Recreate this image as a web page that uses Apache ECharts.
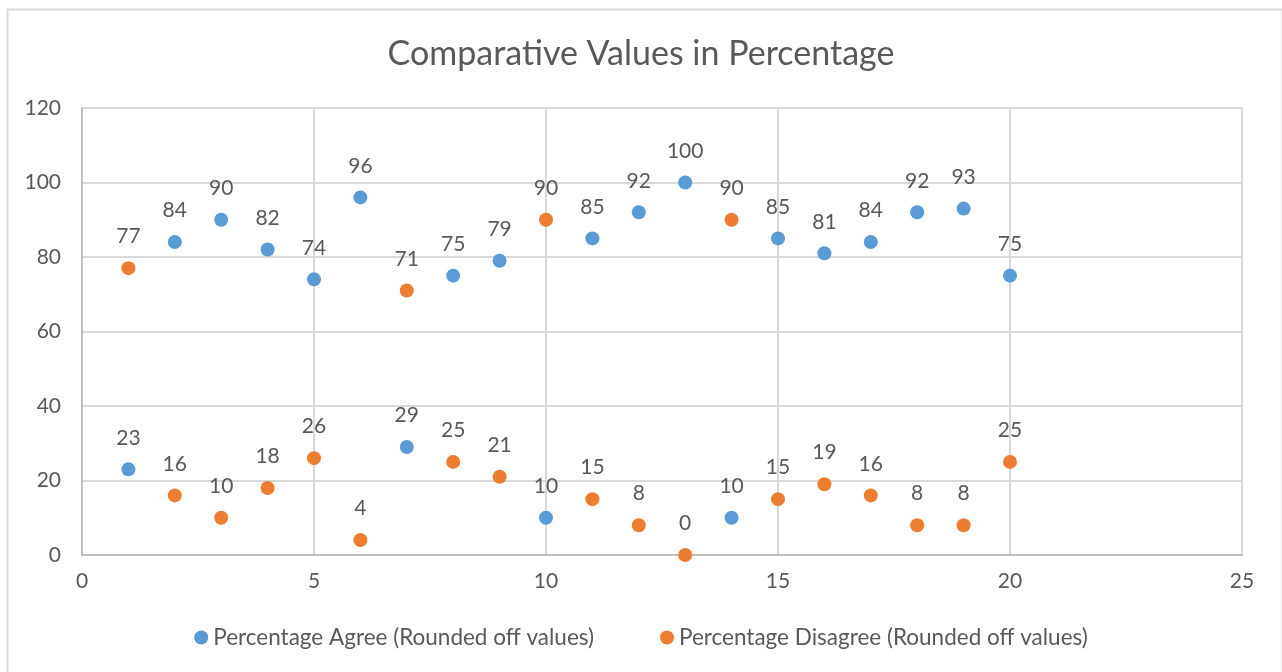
<!DOCTYPE html>
<html>
<head>
<meta charset="utf-8">
<title>Comparative Values in Percentage</title>
<script src="https://cdn.jsdelivr.net/npm/echarts@6/dist/echarts.min.js"></script>
<style>
    html, body { margin: 0; padding: 0; background: #fff; }
    #chart { width: 1282px; height: 672px; }
</style>
</head>
<body>
<div id="chart"></div>
<script>
// Data
var positions = [1, 2, 3, 4, 5, 6, 7, 8, 9, 10, 11, 12, 13, 14, 15, 16, 17, 18, 19, 20];
var agreeValues = [23, 84, 90, 82, 74, 96, 29, 75, 79, 10, 85, 92, 100, 10, 85, 81, 84, 92, 93, 75];
var disagreeValues = [77, 16, 10, 18, 26, 4, 71, 25, 21, 90, 15, 8, 0, 90, 15, 19, 16, 8, 8, 25];
var seriesNames = ['Percentage Agree (Rounded off values)', 'Percentage Disagree (Rounded off values)'];

function toPoints(values) {
    return positions.map(function (x, i) { return [x, values[i]]; });
}

var chart = echarts.init(document.getElementById('chart'));

var labelStyle = {
    show: true,
    position: 'top',
    distance: 14,
    color: '#595959',
    fontSize: 21,
    fontFamily: 'Lato, sans-serif',
    formatter: function (p) { return p.value[1]; }
};

chart.setOption({

    // Global text styles
    textStyle: {
        fontFamily: 'Lato, sans-serif',
        color: '#595959'
    },

    animation: false,

    // Chart outer border
    graphic: [{
        type: 'rect',
        left: 5,
        top: 7,
        shape: { width: 1275, height: 675 },
        style: { fill: 'none', stroke: '#d9d9d9', lineWidth: 2 },
        silent: true
    }],

    // Title
    title: {
        text: 'Comparative Values in Percentage',
        left: 'center',
        top: 32,
        textStyle: {
            fontSize: 34,
            fontWeight: 'normal',
            color: '#595959',
            fontFamily: 'Lato, sans-serif'
        }
    },

    // Setup grid
    grid: {
        left: 82,
        right: 40,
        top: 108,
        bottom: 117
    },

    // Legend
    legend: {
        data: seriesNames,
        bottom: 18,
        left: 'center',
        icon: 'circle',
        itemWidth: 14,
        itemHeight: 14,
        itemGap: 66,
        textStyle: {
            fontSize: 22.5,
            color: '#595959',
            fontFamily: 'Lato, sans-serif'
        }
    },

    // Horizontal axis
    xAxis: {
        type: 'value',
        min: 0,
        max: 25,
        interval: 5,
        axisLine: { show: true, lineStyle: { color: '#bfbfbf', width: 2 } },
        axisTick: { show: false },
        axisLabel: { color: '#595959', fontSize: 21, margin: 16 },
        splitLine: { show: true, lineStyle: { color: '#d9d9d9', width: 2 } }
    },

    // Vertical axis
    yAxis: {
        type: 'value',
        min: 0,
        max: 120,
        interval: 20,
        axisLine: { show: true, lineStyle: { color: '#bfbfbf', width: 2 } },
        axisTick: { show: false },
        axisLabel: { color: '#595959', fontSize: 21, margin: 21 },
        splitLine: { show: true, lineStyle: { color: '#d9d9d9', width: 2 } }
    },

    // Series
    series: [
        {
            name: seriesNames[0],
            type: 'scatter',
            symbolSize: 14,
            itemStyle: { color: '#5B9BD5', opacity: 1 },
            label: labelStyle,
            data: toPoints(agreeValues)
        },
        {
            name: seriesNames[1],
            type: 'scatter',
            symbolSize: 14,
            itemStyle: { color: '#ED7D31', opacity: 1 },
            label: labelStyle,
            data: toPoints(disagreeValues)
        }
    ]
});
</script>
</body>
</html>
